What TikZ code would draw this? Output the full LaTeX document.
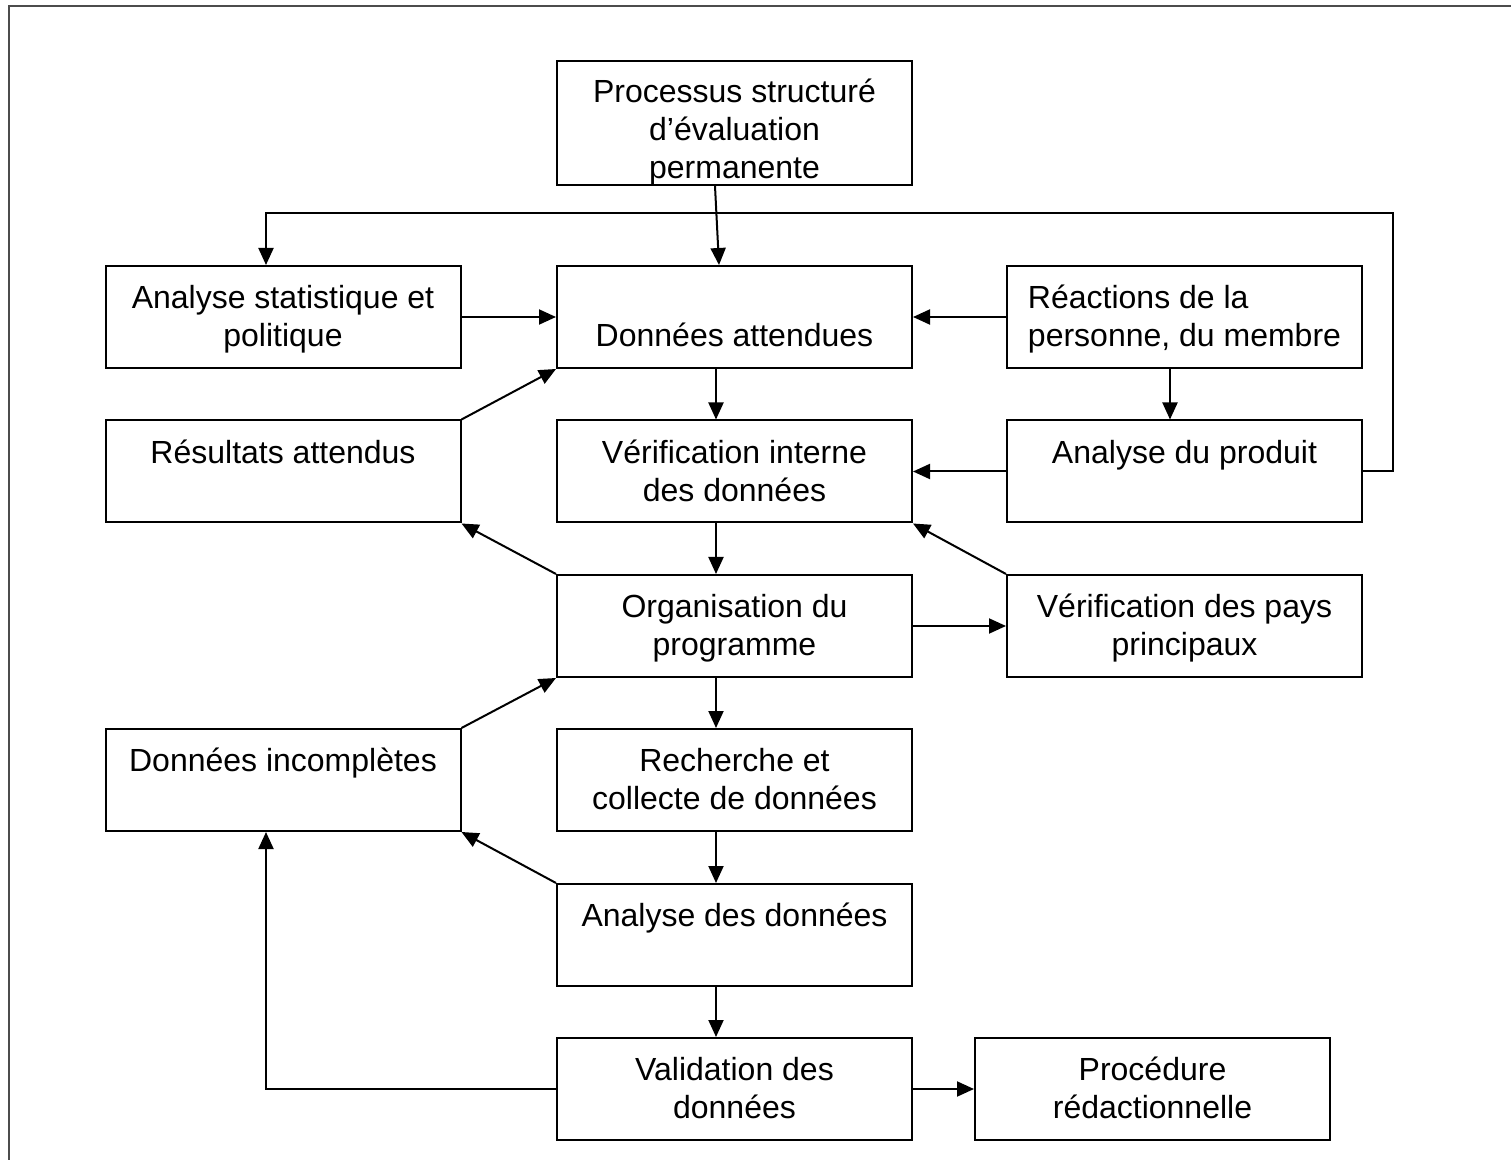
\documentclass[tikz,border=0pt]{standalone}
\usepackage{fontspec}
\setmainfont{Liberation Sans}
\usetikzlibrary{arrows.meta,calc}
\newcommand\twolines[2]{\rule{0pt}{16.3pt}#1\\\strut#2}
\begin{document}
\begin{tikzpicture}[x=0.5pt,y=-0.5pt,
  box/.style={draw, line width=1pt, minimum width=177.5pt, minimum height=51pt,
    inner sep=0pt, align=center, font=\fontsize{16}{19}\selectfont},
  arr/.style={line width=1pt, -{Triangle[length=8.5pt,width=7.5pt]}},
  frameline/.style={draw=black!70, line width=1.2pt}]
\useasboundingbox (0,0) rectangle (1511,1160);
\draw[frameline] (9,1160) -- (9,6) -- (1511,6);

\node[box, minimum height=62pt, inner ysep=-2.5pt] (b1) at (734.5,123) {\rule{0pt}{23.3pt}Processus structuré\\\strut d’évaluation\\\strut permanente};
\node[box] (b2) at (283,317) {\twolines{Analyse statistique et}{politique}};
\node[box] (b3) at (734.5,317) {\twolines{}{Données attendues}};
\node[box, align=left] (b4) at (1184.5,317) {\twolines{Réactions de la}{personne, du membre}};
\node[box] (b5) at (283,471.5) {\twolines{Résultats attendus}{}};
\node[box] (b6) at (734.5,471.5) {\twolines{Vérification interne}{des données}};
\node[box] (b7) at (1184.5,471.5) {\twolines{Analyse du produit}{}};
\node[box] (b8) at (734.5,626) {\twolines{Organisation du}{programme}};
\node[box] (b9) at (1184.5,626) {\twolines{Vérification des pays}{principaux}};
\node[box] (b10) at (283,780) {\twolines{Données incomplètes}{}};
\node[box] (b11) at (734.5,780) {\twolines{Recherche et}{collecte de données}};
\node[box] (b12) at (734.5,935) {\twolines{Analyse des données}{}};
\node[box] (b13) at (734.5,1089) {\twolines{Validation des}{données}};
\node[box] (b14) at (1152.5,1089) {\twolines{Procédure}{rédactionnelle}};

\coordinate (cx) at (716,0);
\coordinate (cxa) at (715,0);
\coordinate (cxb) at (719,0);
\coordinate (rx) at (1170,0);
\coordinate (fbx) at (1393,0);
\coordinate (fby) at (0,213);
\coordinate (lx) at (266,0);

\draw[arr] (b1.south -| cxa) -- (b3.north -| cxb);
\draw[arr] (b7.east) -- (b7.east -| fbx) -- (fbx |- fby) -- (lx |- fby) -- (b2.north -| lx);
\draw[arr] (b2.east) -- (b3.west);
\draw[arr] (b4.west) -- (b3.east);
\draw[arr] (b4.south -| rx) -- (b7.north -| rx);
\draw[arr] (b3.south -| cx) -- (b6.north -| cx);
\draw[arr] (b7.west) -- (b6.east);
\draw[arr] (b5.north east) -- (b3.south west);
\draw[arr] (b8.north west) -- (b5.south east);
\draw[arr] (b9.north west) -- (b6.south east);
\draw[arr] (b6.south -| cx) -- (b8.north -| cx);
\draw[arr] (b8.east) -- (b9.west);
\draw[arr] (b8.south -| cx) -- (b11.north -| cx);
\draw[arr] (b10.north east) -- (b8.south west);
\draw[arr] (b12.north west) -- (b10.south east);
\draw[arr] (b11.south -| cx) -- (b12.north -| cx);
\draw[arr] (b12.south -| cx) -- (b13.north -| cx);
\draw[arr] (b13.west) -- (b13.west -| lx) -- (b10.south -| lx);
\draw[arr] (b13.east) -- (b14.west);
\end{tikzpicture}
\end{document}
